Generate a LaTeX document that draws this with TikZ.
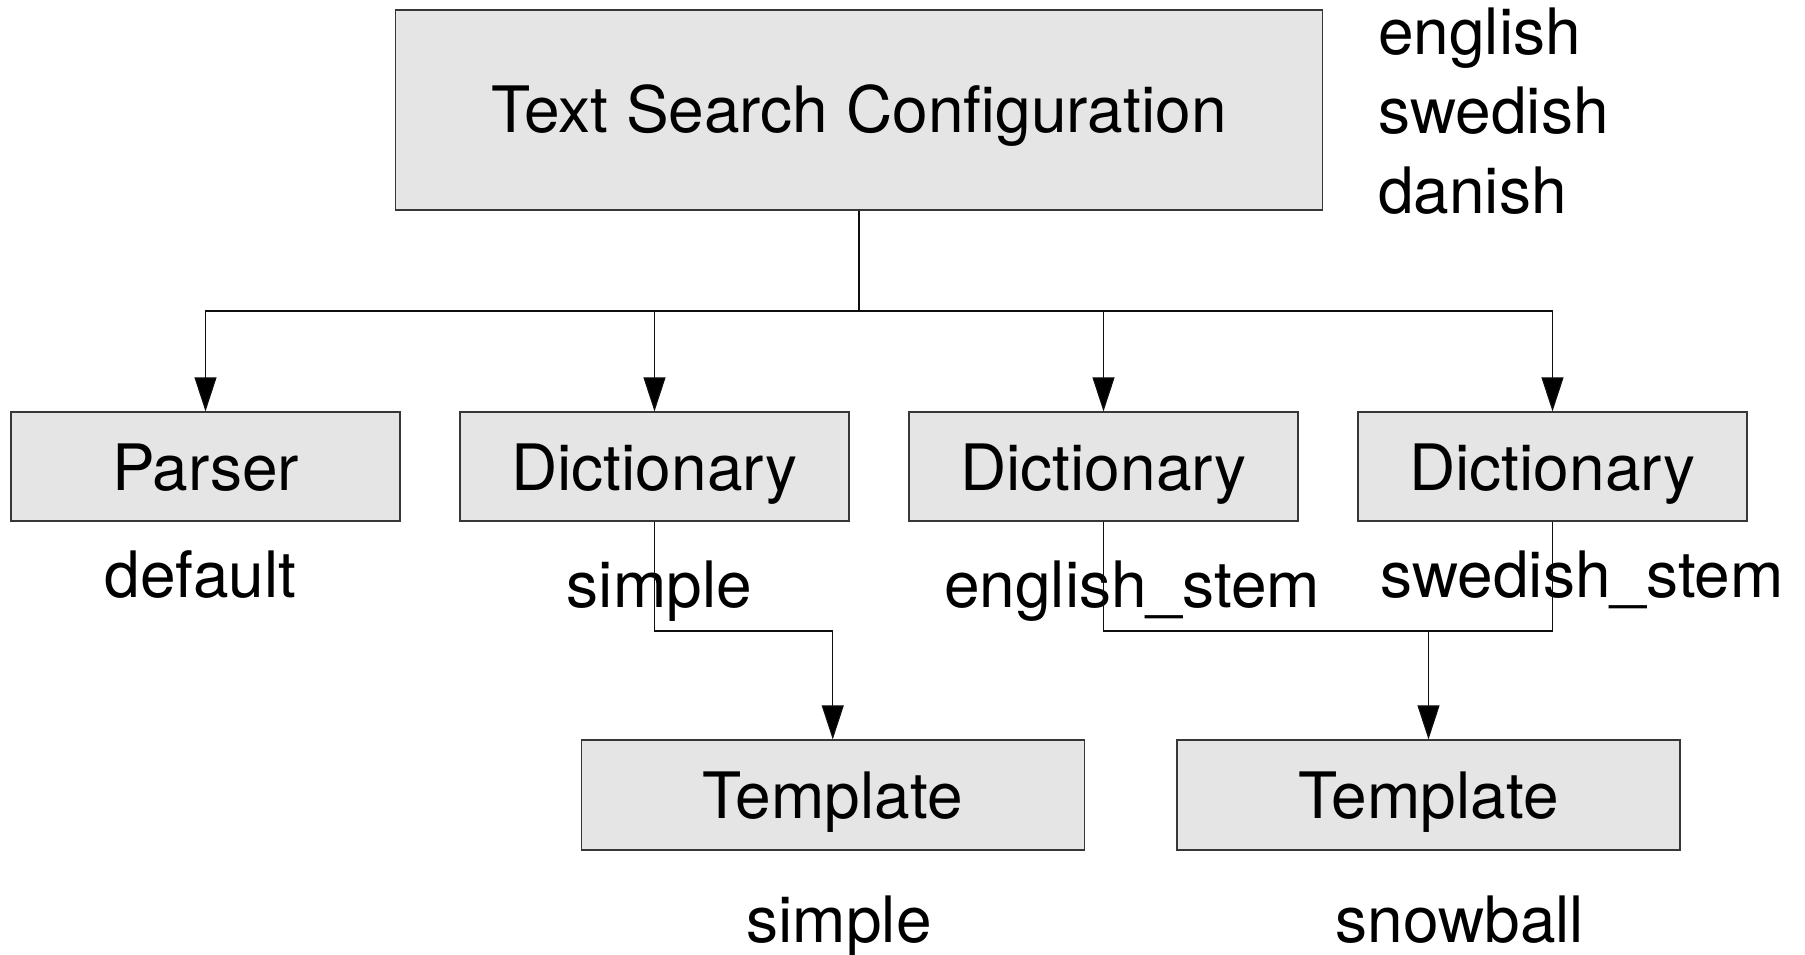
\documentclass[tikz,border=0pt]{standalone}
\usepackage{fontspec}
\setmainfont{TeX Gyre Heros}
\usetikzlibrary{arrows.meta}

\definecolor{boxfill}{RGB}{229,229,229}
\definecolor{boxline}{RGB}{55,55,55}
\definecolor{wire}{RGB}{15,15,15}

\begin{document}
\begin{tikzpicture}[x=1pt,y=-1pt,
  every node/.style={font=\fontsize{64}{77}\selectfont, inner sep=0pt},
  box/.style={draw=boxline, fill=boxfill, line width=1.3pt, rectangle,
              text height=47pt, text depth=0pt},
  rowbox/.style={box, minimum width=389pt, minimum height=109pt},
  tplbox/.style={box, minimum width=503pt, minimum height=110pt},
  label/.style={anchor=base},
  wireline/.style={draw=wire, line width=1.2pt},
  arrowline/.style={wireline, -{Triangle[length=34pt,width=22pt,fill=black]}}
]
\useasboundingbox (0,0) rectangle (1805,954);

% configuration box and its language names
\node[box, minimum width=927pt, minimum height=200pt, text height=44pt]
  (cfg) at (859,110) {Text Search Configuration};
\node[anchor=base west] (lang1) at (1378,54) {english};
\node[anchor=base west] (lang2) at (1378,133) {swedish};
\node[anchor=base west] (lang3) at (1378,213) {danish};

% parser and dictionaries
\node[rowbox] (parser) at (205.5,466.5) {Parser};
\node[rowbox] (dict1) at (654.5,466.5) {Dictionary};
\node[rowbox] (dict2) at (1103.5,466.5) {Dictionary};
\node[rowbox] (dict3) at (1552.5,466.5) {Dictionary};

\node[label] (lparser) at (200.5,597) {default};
\node[label] (ldict1) at (659.5,607) {simple};
\node[label] (ldict2) at (1132,607) {english\_stem};
\node[label] (ldict3) at (1582,597) {swedish\_stem};

% templates
\node[tplbox] (tpl1) at (832.75,795) {Template};
\node[tplbox] (tpl2) at (1428.5,795) {Template};

\node[label] (ltpl1) at (839,942) {simple};
\node[label] (ltpl2) at (1460,942) {snowball};

% fan-out from the configuration
\coordinate (split) at (859,311);
\draw[wireline] (cfg.south) -- (split);
\draw[arrowline] (split) -| (parser.north);
\draw[arrowline] (split) -| (dict1.north);
\draw[arrowline] (split) -| (dict2.north);
\draw[arrowline] (split) -| (dict3.north);

% dictionaries to templates
\draw[arrowline] (dict1.south) |- (832.75,631) -- (tpl1.north);
\coordinate (merge) at (1428.5,631);
\draw[wireline] (dict2.south) |- (merge);
\draw[wireline] (dict3.south) |- (merge);
\draw[arrowline] (merge) -- (tpl2.north);
\end{tikzpicture}
\end{document}
